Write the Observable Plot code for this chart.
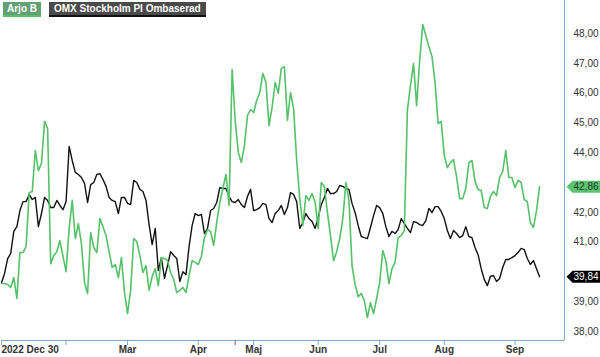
<!DOCTYPE html>
<html>
<head>
<meta charset="utf-8">
<script src="https://cdn.jsdelivr.net/npm/d3@7"></script>
<script src="https://cdn.jsdelivr.net/npm/@observablehq/plot@0.6"></script>
<style>
  html, body { margin: 0; padding: 0; background: #fff; }
  #wrap { position: relative; width: 600px; height: 357px; font-family: "Liberation Sans", Arial, sans-serif; }
  .leg { position: absolute; top: 2px; height: 15px; line-height: 13px; color: #fff; font-weight: bold; font-size: 10px; padding: 0 4px; box-sizing: border-box; white-space: nowrap; }
  svg { display: block; }
</style>
</head>
<body>
<div id="wrap"></div>
<script>
// Series names
const seriesNames = ["Arjo B", "OMX Stockholm PI Ombaserad"];
const seriesColors = ["#55c168", "#111111"];

// Arjo B closing values (one per trading day, 2022-12-30 .. mid Sep 2023)
const arjo = [39.61,39.61,39.58,39.48,39.81,39.11,40.65,40.65,40.85,42.66,
42.70,44.07,43.40,43.64,45.05,44.81,40.28,40.55,40.68,41.05,
40.52,40.01,41.46,42.40,41.12,41.62,40.95,39.64,39.28,41.32,
40.82,40.65,41.79,41.52,41.22,40.68,40.15,40.25,39.81,40.48,
39.31,38.60,39.38,41.12,41.02,40.55,39.98,40.21,39.38,39.85,
40.11,39.54,40.48,40.45,40.38,39.98,39.75,39.31,39.38,39.48,
39.31,39.88,40.38,40.32,40.25,40.52,41.15,41.42,41.36,40.89,
41.66,42.33,42.80,43.27,42.23,46.79,45.08,44.01,43.67,44.24,
45.25,45.45,45.35,45.75,46.02,46.66,46.36,44.91,45.52,46.36,
45.99,46.83,46.89,45.08,46.02,45.48,43.74,42.46,41.56,42.56,
42.40,42.63,42.33,41.46,43.00,42.87,41.99,41.22,40.38,40.68,
41.12,41.79,43.00,42.40,40.21,39.58,39.17,39.28,39.04,38.47,
38.97,38.60,39.11,39.64,40.72,40.38,39.61,40.11,40.32,41.15,
41.22,41.39,45.42,46.25,46.99,45.58,47.09,48.30,47.93,47.56,
47.23,46.36,44.98,45.05,43.91,43.50,43.67,43.77,43.20,42.46,
42.46,42.80,43.67,43.74,43.03,42.77,42.73,42.16,42.13,42.53,
42.70,42.56,43.17,43.37,44.07,43.17,43.17,42.83,43.07,43.00,
42.43,42.36,41.66,41.49,42.06,42.86];

// OMX Stockholm PI, rebased to Arjo B
const omx = [39.64,39.95,40.45,40.62,41.36,41.52,42.06,42.36,42.36,42.60,
42.43,42.50,41.52,41.96,42.50,42.40,42.16,42.16,42.40,42.23,
42.09,42.36,44.21,43.74,43.34,43.27,43.17,42.97,42.33,42.93,
43.00,43.27,43.30,43.10,42.87,42.50,42.40,42.36,41.96,42.50,
42.50,42.30,42.26,43.07,43.00,42.77,42.70,42.40,41.59,40.92,
41.46,40.05,40.48,39.78,40.21,40.68,40.55,40.45,39.68,40.01,
39.91,40.85,41.56,41.96,41.89,41.93,41.29,41.46,42.06,42.13,
42.33,42.83,42.80,42.80,42.53,42.36,42.33,42.43,42.26,42.16,
42.53,42.77,42.06,42.09,42.16,42.30,42.26,41.79,41.66,41.96,
42.06,42.23,41.93,42.16,42.66,42.60,42.36,41.46,41.66,41.96,
41.79,41.69,41.46,41.83,42.26,42.50,42.80,42.63,42.63,42.70,
42.90,42.87,42.80,42.77,42.30,41.99,41.56,41.19,41.15,41.12,
41.49,41.89,42.23,42.16,41.96,41.52,41.19,41.36,41.29,41.42,
41.79,41.62,41.46,41.32,41.69,41.66,41.59,41.56,41.72,42.13,
41.99,42.19,42.19,42.03,41.79,41.39,41.12,41.39,41.29,41.15,
41.22,41.52,41.19,41.15,40.82,40.58,40.11,39.75,39.54,39.85,
39.88,39.68,39.78,40.15,40.42,40.42,40.48,40.55,40.65,40.79,
40.75,40.45,40.25,40.38,40.11,39.84];

// x axis: tick positions (trading-day index) and labels
const xTickIdx = [0, 21, 41, 64, 82, 103, 123, 144, 167];
const xTickLabels = ["2022 Dec 30", "", "Mar", "Apr", "Maj", "Jun", "Jul", "Aug", "Sep"];
const markerIdx = [76];

// y axis tick labels shown (43 and 40 are covered by the value tags)
const yTicks = [38, 39, 41, 42, 44, 45, 46, 47, 48];

// scale domains
const xDomain = [0, 183.1];
const yDomain = [37.70, 49.107];

const fmt = v => v.toFixed(2).replace(".", ",");
const frameColor = "#7ea7c9";

const tagShape = {
  draw(context) {
    context.moveTo(2, 0);
    context.lineTo(8, -6);
    context.lineTo(36, -6);
    context.lineTo(36, 6);
    context.lineTo(8, 6);
    context.closePath();
  }
};

const lastArjo = arjo[arjo.length - 1];
const lastOmx = omx[omx.length - 1];
const labelFirst = [{i: xTickIdx[0], t: xTickLabels[0]}];
const labelRest = xTickIdx.slice(1).map((i, k) => ({i, t: xTickLabels[k + 1]}));

const chart = Plot.plot({
  width: 600,
  height: 357,
  marginTop: 0,
  marginLeft: 1,
  marginRight: 36,
  marginBottom: 17,
  style: {fontFamily: "'Liberation Sans', Arial, sans-serif", fontSize: "10px", color: "#333", background: "#fff"},
  x: {domain: xDomain},
  y: {domain: yDomain},
  marks: [
    Plot.axisY({anchor: "right", ticks: yTicks, tickSize: 0, tickPadding: 9, textAnchor: "start", tickFormat: fmt, fill: "#333", fontSize: 10, label: null}),
    Plot.axisX({ticks: xTickIdx, tickSize: 5, tickFormat: () => "", stroke: frameColor, label: null}),
    Plot.axisX({ticks: markerIdx, tickSize: 5, tickFormat: () => "", stroke: "#e0303a", label: null}),
    Plot.ruleY([yDomain[0]], {stroke: frameColor}),
    Plot.ruleX([xDomain[1]], {stroke: frameColor}),
    Plot.text(labelFirst, {x: "i", text: "t", frameAnchor: "bottom", dy: 12, textAnchor: "start", fontWeight: "bold", fill: "#333", fontSize: 10}),
    Plot.text(labelRest, {x: "i", text: "t", frameAnchor: "bottom", dy: 12, textAnchor: "middle", fontWeight: "bold", fill: "#333", fontSize: 10}),
    Plot.lineY(omx, {stroke: seriesColors[1], strokeWidth: 1.4}),
    Plot.lineY(arjo, {stroke: seriesColors[0], strokeWidth: 1.6}),
    Plot.dot([lastArjo], {y: d => d, frameAnchor: "right", symbol: tagShape, fill: "#5cc46f", stroke: null}),
    Plot.text([lastArjo], {y: d => d, frameAnchor: "right", dx: 9, textAnchor: "start", text: fmt, fill: "#1a3a1f", fontSize: 10}),
    Plot.dot([lastOmx], {y: d => d, frameAnchor: "right", symbol: tagShape, fill: "#000", stroke: null}),
    Plot.text([lastOmx], {y: d => d, frameAnchor: "right", dx: 9, textAnchor: "start", text: fmt, fill: "#fff", fontSize: 10})
  ]
});

const wrap = document.getElementById("wrap");
wrap.appendChild(chart);

const leg1 = document.createElement("div");
leg1.className = "leg";
leg1.style.left = "3px";
leg1.style.background = "#629f72";
leg1.style.borderBottom = "2px solid " + seriesColors[0];
leg1.textContent = seriesNames[0];
wrap.appendChild(leg1);

const leg2 = document.createElement("div");
leg2.className = "leg";
leg2.style.left = "49px";
leg2.style.background = "#4a4a4a";
leg2.style.borderBottom = "2px solid #111";
leg2.style.padding = "0 5px";
leg2.textContent = seriesNames[1];
wrap.appendChild(leg2);
</script>
</body>
</html>
